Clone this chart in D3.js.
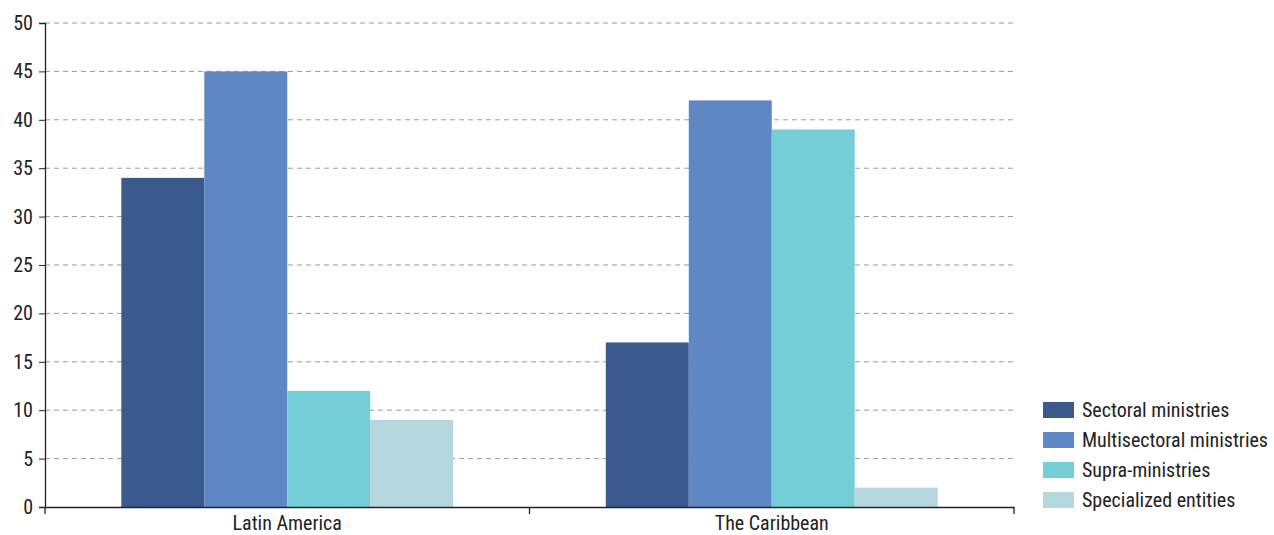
<!DOCTYPE html>
<html><head><meta charset="utf-8">
<script src="https://cdn.jsdelivr.net/npm/d3@7"></script>
<style>body{margin:0;background:#fff}text{font-family:"Roboto Condensed","Roboto",sans-serif;fill:#222}</style>
</head><body><svg id="c" width="1274" height="535"></svg>
<script>
const categories = ["Latin America", "The Caribbean"];
const seriesNames = ["Sectoral ministries", "Multisectoral ministries", "Supra-ministries", "Specialized entities"];
const sectoral = [34, 17];
const multisectoral = [45, 42];
const supra = [12, 39];
const specialized = [9, 2];
const yTicks = [0, 5, 10, 15, 20, 25, 30, 35, 40, 45, 50];
const colors = ["#3a5a8d", "#5e87c4", "#75ced6", "#b4d8de"];

const series = [sectoral, multisectoral, supra, specialized];
const svg = d3.select("#c");
const m = {l: 45, r: 1014, t: 23, b: 507};
const x0 = d3.scaleBand().domain(categories).range([m.l, m.r]).paddingInner(0).paddingOuter(0);
const x1 = d3.scaleBand().domain(seriesNames).range([0, x0.bandwidth()]).paddingOuter(0.92).paddingInner(0);
const y = d3.scaleLinear().domain([0, 50]).range([m.b, m.t]);

// grid
svg.append("g").selectAll("line").data(yTicks.filter(d => d > 0)).join("line")
  .attr("x1", m.l).attr("x2", m.r).attr("y1", d => y(d)).attr("y2", d => y(d))
  .attr("stroke", "#9a9a9a").attr("stroke-width", 1).attr("stroke-dasharray", "5,4");

// bars
categories.forEach((c, ci) => {
  svg.append("g").selectAll("rect").data(series.map((s, si) => ({name: seriesNames[si], v: s[ci], si}))).join("rect")
    .attr("x", d => x0(c) + x1(d.name)).attr("width", x1.bandwidth())
    .attr("y", d => y(d.v)).attr("height", d => y(0) - y(d.v))
    .attr("fill", d => colors[d.si]);
});

// y axis
const ya = svg.append("g").attr("transform", `translate(${m.l},0)`)
  .call(d3.axisLeft(y).tickValues(yTicks).tickSize(6).tickPadding(6));
ya.select(".domain").attr("stroke", "#222").attr("stroke-width", 1.3);
ya.selectAll(".tick line").attr("stroke", "#222");
ya.selectAll("text").style("font-size", "20px").attr("fill", "#222");

// x axis
const xa = svg.append("g").attr("transform", `translate(0,${m.b})`)
  .call(d3.axisBottom(x0).tickSize(0).tickPadding(9));
xa.select(".domain").attr("stroke", "#222").attr("stroke-width", 1.3);
xa.selectAll("text").style("font-size", "20px").attr("fill", "#222");
const bounds = [m.l, x0(categories[1]), m.r];
svg.append("g").selectAll("line").data(bounds).join("line")
  .attr("x1", d => d).attr("x2", d => d).attr("y1", m.b).attr("y2", m.b + 7)
  .attr("stroke", "#222").attr("stroke-width", 1.3);

// legend
const lg = svg.append("g").attr("transform", "translate(1043,402)");
seriesNames.forEach((n, i) => {
  lg.append("rect").attr("x", 0).attr("y", i * 30).attr("width", 31).attr("height", 16).attr("fill", colors[i]);
  lg.append("text").attr("x", 39).attr("y", i * 30 + 8).attr("dy", "0.35em")
    .style("font-size", "20px").text(n);
});
</script></body></html>
